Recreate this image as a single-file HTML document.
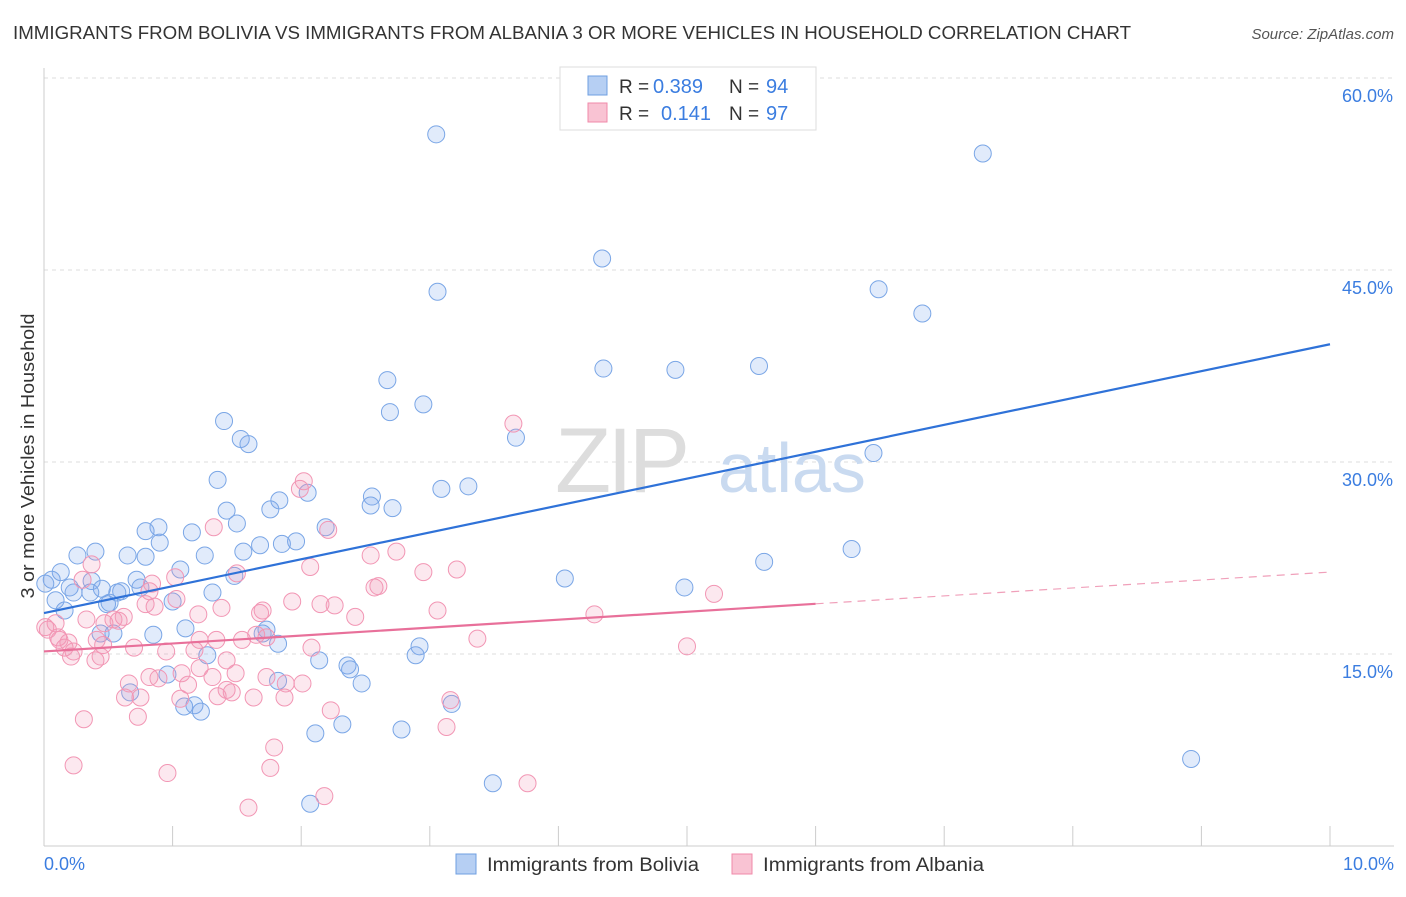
<!DOCTYPE html>
<html><head><meta charset="utf-8">
<style>
body{margin:0;background:#fff;font-family:"Liberation Sans",sans-serif;}
svg text{font-family:"Liberation Sans",sans-serif;}
</style></head>
<body>
<svg id="chart" width="1406" height="892" xmlns="http://www.w3.org/2000/svg">
<text x="13" y="39" font-size="18" fill="#333" textLength="1118" lengthAdjust="spacingAndGlyphs">IMMIGRANTS FROM BOLIVIA VS IMMIGRANTS FROM ALBANIA 3 OR MORE VEHICLES IN HOUSEHOLD CORRELATION CHART</text>
<text x="1394" y="39" font-size="15" fill="#555" font-style="italic" text-anchor="end">Source: ZipAtlas.com</text>
<g id="grid"></g>
<g>
<text x="555" y="492" font-size="92" fill="#ddd" font-family="Liberation Serif" letter-spacing="-4">ZIP</text>
<text x="718" y="492" font-size="70" fill="#c9daf0">atlas</text>
</g>
<text transform="translate(34,456) rotate(-90)" font-size="18" fill="#333" text-anchor="middle" textLength="285" lengthAdjust="spacingAndGlyphs">3 or more Vehicles in Household</text>
<g id="marks"></g>
<g id="trends"></g>
<g>
<rect x="560" y="67" width="256" height="63" fill="#fff" stroke="#ddd"/>
<rect x="588" y="76" width="19" height="19" fill="#b6cff3" stroke="#6f9fe0"/>
<rect x="588" y="103" width="19" height="19" fill="#f9c3d3" stroke="#f08aaa"/>
<text x="619" y="93" font-size="19" fill="#333">R =</text>
<text x="653" y="93" font-size="20" fill="#3b7de0">0.389</text>
<text x="729" y="93" font-size="19" fill="#333">N =</text>
<text x="766" y="93" font-size="20" fill="#3b7de0">94</text>
<text x="619" y="120" font-size="19" fill="#333">R =</text>
<text x="661" y="120" font-size="20" fill="#3b7de0">0.141</text>
<text x="729" y="120" font-size="19" fill="#333">N =</text>
<text x="766" y="120" font-size="20" fill="#3b7de0">97</text>
</g>
<g>
<rect x="456" y="854" width="20" height="20" fill="#b6cff3" stroke="#6f9fe0"/>
<text x="487" y="871" font-size="19" fill="#333" textLength="212" lengthAdjust="spacingAndGlyphs">Immigrants from Bolivia</text>
<rect x="732" y="854" width="20" height="20" fill="#f9c3d3" stroke="#f08aaa"/>
<text x="763" y="871" font-size="19" fill="#333" textLength="221" lengthAdjust="spacingAndGlyphs">Immigrants from Albania</text>
</g>
<text x="44" y="870" font-size="18" fill="#3b7de0">0.0%</text>
<text x="1394" y="870" font-size="18" fill="#3b7de0" text-anchor="end">10.0%</text>
</svg>
<script>
const yTicks=[15,30,45,60];
const xTicks=[0,1,2,3,4,5,6,7,8,9,10];
const boliviaX=[3.05,7.30,4.34,3.06,6.49,6.83,4.35,4.91,5.56,2.67,2.69,2.95,1.40,1.53,1.59,3.67,6.45,1.35,3.09,3.30,1.83,2.05,2.55,2.54,2.71,1.76,1.42,1.50,2.19,0.89,0.79,1.15,0.90,0.40,0.26,0.65,0.79,1.25,1.55,1.68,1.85,1.96,6.28,5.60,0.13,1.06,1.48,4.05,4.98,0.37,0.20,0.72,0.75,0.60,0.45,0.57,0.36,0.09,0.23,1.31,1.00,0.49,0.16,0.51,0.85,0.54,0.44,1.10,1.73,1.70,1.82,2.92,2.89,1.27,2.14,2.36,2.38,2.47,1.82,0.96,0.67,1.09,1.17,1.22,3.17,2.32,2.78,2.11,2.07,3.49,8.92,0.06,0.01];
const boliviaY=[55.6,54.1,45.9,43.3,43.5,41.6,37.3,37.2,37.5,36.4,33.9,34.5,33.2,31.8,31.4,31.9,30.7,28.6,27.9,28.1,27.0,27.6,27.3,26.6,26.4,26.3,26.2,25.2,24.9,24.9,24.6,24.5,23.7,23.0,22.7,22.7,22.6,22.7,23.0,23.5,23.6,23.8,23.2,22.2,21.4,21.6,21.1,20.9,20.2,20.7,20.2,20.8,20.2,19.9,20.1,19.8,19.8,19.2,19.8,19.8,19.1,18.9,18.4,19.0,16.5,16.6,16.6,17.0,16.9,16.6,15.8,15.6,14.9,14.9,14.5,14.1,13.8,12.7,12.9,13.4,12.0,10.9,11.0,10.5,11.1,9.5,9.1,8.8,3.3,4.9,6.8,20.8,20.5];
const albaniaX=[3.65,2.02,1.99,2.21,1.32,0.37,2.07,2.54,2.74,2.95,3.21,2.60,2.57,1.02,1.50,0.30,0.84,0.82,1.03,0.79,0.86,1.93,2.15,2.26,1.70,3.06,4.28,5.21,2.42,0.62,0.54,0.47,0.58,0.33,1.20,1.38,1.68,0.03,0.11,0.19,0.16,0.23,0.41,0.46,0.70,1.34,1.54,1.65,1.73,2.08,1.21,1.17,0.95,0.21,0.40,0.44,3.37,5.00,1.42,1.21,1.49,1.31,1.07,0.82,0.89,1.12,1.42,1.46,1.73,1.88,2.01,0.66,0.63,0.75,1.63,1.87,1.06,3.16,2.23,0.31,0.73,3.13,1.79,0.23,0.96,1.76,2.18,1.59,3.76,0.09,0.01,0.12,1.35];
const albaniaY=[33.0,28.5,27.9,24.7,24.9,22.0,21.8,22.7,23.0,21.4,21.6,20.3,20.2,21.0,21.3,20.8,20.5,19.9,19.3,18.9,18.7,19.1,18.9,18.8,18.4,18.4,18.1,19.7,17.9,17.9,17.7,17.4,17.6,17.7,18.1,18.6,18.2,16.9,16.3,15.9,15.5,15.2,16.1,15.7,15.5,16.1,16.1,16.5,16.3,15.5,16.1,15.3,15.2,14.8,14.5,14.8,16.2,15.6,14.5,13.9,13.5,13.2,13.5,13.2,13.1,12.6,12.2,12.0,13.2,12.7,12.7,12.7,11.6,11.6,11.6,11.6,11.5,11.4,10.6,9.9,10.1,9.3,7.7,6.3,5.7,6.1,3.9,3.0,4.9,17.4,17.1,16.1,11.7];
const boliviaTrend=[18.2,39.2];
const albaniaTrend=[15.2,21.4];
const albaniaSolidEnd=6;

const NS="http://www.w3.org/2000/svg";
const X0=44,X1=1330,Y0=846,PXY=12.8;
function xs(v){return X0+(X1-X0)*v/10;}
function ys(v){return Y0-v*PXY;}
function mk(tag,attrs,parent){const e=document.createElementNS(NS,tag);for(const k in attrs)e.setAttribute(k,attrs[k]);parent.appendChild(e);return e;}
const grid=document.getElementById('grid');
yTicks.forEach(t=>{
  const l=mk('line',{x1:44,x2:1394,y1:ys(t),y2:ys(t),stroke:'#ddd','stroke-dasharray':'4,4'},grid);
  
  
  const tx=mk('text',{x:1393,y:ys(t)+24,'font-size':18,fill:'#3b7de0','text-anchor':'end'},grid);
  tx.textContent=t.toFixed(1)+'%';
  
  
});
const ax=mk('line',{x1:44,x2:44,y1:68,y2:846,stroke:'#ccc'},grid);


const bx=mk('line',{x1:44,x2:1394,y1:846,y2:846,stroke:'#ccc'},grid);


xTicks.forEach(t=>{
  const l=mk('line',{x1:xs(t),x2:xs(t),y1:826,y2:846,stroke:'#ccc'},grid);
  
  
});
const marks=document.getElementById('marks');
function series(xa,ya,fill,stroke,name){
  xa.forEach((v,i)=>{
    const c=mk('circle',{cx:xs(v),cy:ys(ya[i]),r:8.5,fill:fill,stroke:stroke,'stroke-width':1},marks);
    
    
  });
}
series(boliviaX,boliviaY,'rgba(120,165,235,0.22)','#7aa6e6','bolivia-point');
series(albaniaX,albaniaY,'rgba(242,150,180,0.22)','#f296b4','albania-point');
const tr=document.getElementById('trends');
const b=mk('line',{x1:xs(0),y1:ys(boliviaTrend[0]),x2:xs(10),y2:ys(boliviaTrend[1]),stroke:'#2f72d8','stroke-width':2.2},tr);


const am=albaniaTrend[0]+(albaniaTrend[1]-albaniaTrend[0])*albaniaSolidEnd/10;
const a=mk('line',{x1:xs(0),y1:ys(albaniaTrend[0]),x2:xs(albaniaSolidEnd),y2:ys(am),stroke:'#e8709a','stroke-width':2.2},tr);


const ad=mk('line',{x1:xs(albaniaSolidEnd),y1:ys(am),x2:xs(10),y2:ys(albaniaTrend[1]),stroke:'#f0a0ba','stroke-width':1.2,'stroke-dasharray':'8,6'},tr);


</script>
</body></html>
